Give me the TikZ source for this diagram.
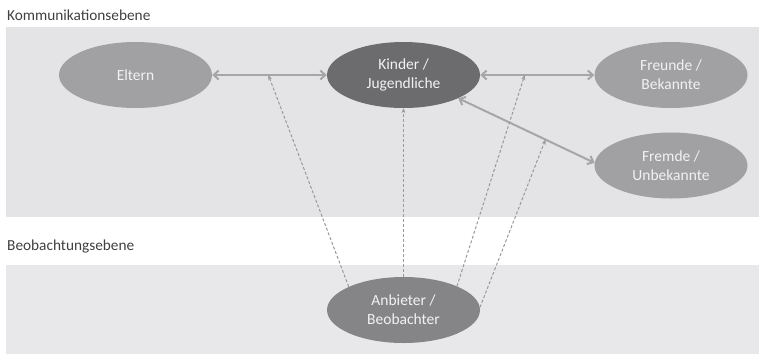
\documentclass[tikz,border=0pt]{standalone}
\usepackage{fontspec}
\setmainfont{Carlito}
\usetikzlibrary{shapes.geometric,arrows.meta}
\definecolor{bandgray}{HTML}{E4E4E6}
\definecolor{lowgray}{HTML}{E8E8EA}
\definecolor{nodegray}{HTML}{A1A1A4}
\definecolor{kidgray}{HTML}{6C6C6F}
\definecolor{obsgray}{HTML}{858588}
\definecolor{arrowgray}{HTML}{A6A6A6}
\definecolor{dashgray}{HTML}{999999}
\definecolor{labelgray}{HTML}{404040}
\definecolor{nodetext}{HTML}{F2F2F2}

\begin{document}
\begin{tikzpicture}[x=1pt, y=-1pt,
    level/.style={anchor=base west, inner sep=0pt, text=labelgray,
      font=\fontsize{15.3}{18}\selectfont},
    person/.style={ellipse, fill=nodegray, minimum width=153pt, minimum height=66pt,
      inner sep=0pt, text=nodetext, align=center, font=\fontsize{15.5}{19}\selectfont},
    comm/.style={arrowgray, line width=2pt,
      {Straight Barb[length=5pt,width=9pt]}-{Straight Barb[length=5pt,width=9pt]}},
    watch/.style={dashgray, line width=1pt, dash pattern=on 3pt off 2pt,
      -{Stealth[length=5pt,width=4pt]}}
  ]
      \useasboundingbox (0,0) rectangle (759,354);
      \fill[bandgray] (6,27) rectangle (759,216.5);
      \fill[lowgray] (6,265) rectangle (759,354);
      \node[level] (komm) at (7,20) {Kommunikationsebene};
      \node[level] (beob) at (7,250) {Beobachtungsebene};

      \node[person] (eltern) at (135.5,75) {Eltern};
      \node[person, fill=kidgray] (kinder) at (403.5,75) {Kinder /\\Jugendliche};
      \node[person] (freunde) at (671,75) {Freunde /\\Bekannte};
      \node[person] (fremde) at (671,165.5) {Fremde /\\Unbekannte};
      \node[person, fill=obsgray] (anbieter) at (403.5,310) {Anbieter /\\Beobachter};

      \draw[comm] (eltern) -- coordinate[pos=0.49] (ek) (kinder);
      \draw[comm] (kinder) -- coordinate[pos=0.39] (kf) (freunde);
      \draw[comm] (kinder.-23) -- coordinate[pos=0.64] (kx) (fremde.178);

      \draw[watch] (anbieter.157) -- (ek);
      \draw[watch] (anbieter.north) -- (kinder.south);
      \draw[watch] (anbieter.24) -- (kf);
      \draw[watch] (anbieter.2) -- (kx);
    \end{tikzpicture}
\end{document}
